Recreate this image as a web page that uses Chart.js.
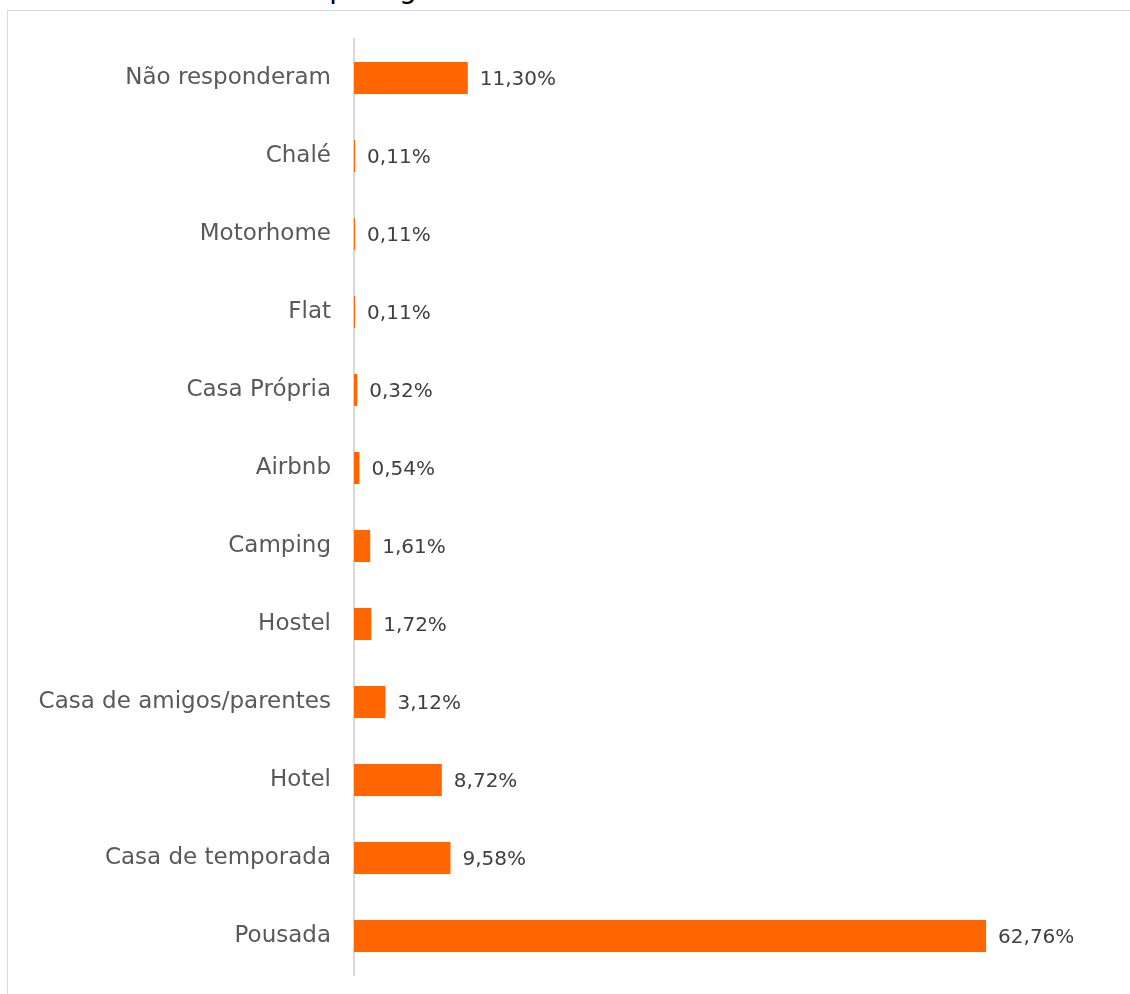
<!DOCTYPE html>
<html>
<head>
<meta charset="utf-8">
<script src="https://cdn.jsdelivr.net/npm/chart.js@4"></script>
<style>
  body { margin: 0; background: #fff; width: 1130px; height: 994px; overflow: hidden; position: relative; }
  #title { position: absolute; left: 15px; top: -28px; font: 28px "DejaVu Sans", sans-serif; color: #000; white-space: nowrap; }
  #frame { position: absolute; left: 7px; top: 10px; width: 1140px; height: 1010px; border: 1px solid #d9d9d9; box-sizing: border-box; background: #fff; }
  #chart { position: absolute; left: 0; top: 0; }
</style>
</head>
<body>
<div id="title">Gráfico 6: Meio de hospedagem</div>
<div id="frame"></div>
<canvas id="chart" width="1130" height="994"></canvas>
<script>
// categories, top to bottom
const categories = ['Não responderam', 'Chalé', 'Motorhome', 'Flat', 'Casa Própria', 'Airbnb',
    'Camping', 'Hostel', 'Casa de amigos/parentes', 'Hotel', 'Casa de temporada', 'Pousada'];
const percentValues = [11.30, 0.11, 0.11, 0.11, 0.32, 0.54, 1.61, 1.72, 3.12, 8.72, 9.58, 62.76];
const percentLabels = ['11,30%', '0,11%', '0,11%', '0,11%', '0,32%', '0,54%', '1,61%', '1,72%',
    '3,12%', '8,72%', '9,58%', '62,76%'];

// draw the value text right of each bar
const valueLabels = {
    id: 'valueLabels',
    afterDatasetsDraw: function(chart) {
        const ctx = chart.ctx;
        const meta = chart.getDatasetMeta(0);
        ctx.save();
        ctx.font = '20px "DejaVu Sans", sans-serif';
        ctx.fillStyle = '#404040';
        ctx.textBaseline = 'middle';
        ctx.textAlign = 'left';
        meta.data.forEach(function(bar, i) {
            ctx.fillText(percentLabels[i], bar.x + 12, bar.y + 2);
        });
        ctx.restore();
    }
};

const ctx = document.getElementById('chart').getContext('2d');
const chart = new Chart(ctx, {
    type: 'bar',
    data: {
        labels: categories,
        datasets: [{
            data: percentValues,
            backgroundColor: '#ff6600',
            borderWidth: 0,
            categoryPercentage: 1,
            barPercentage: 0.41
        }]
    },
    options: {
        indexAxis: 'y',
        responsive: false,
        animation: false,
        layout: { padding: { top: 39, bottom: 19, right: 71, left: 0 } },
        scales: {
            x: { display: false, min: 0, max: 70 },
            y: {
                afterFit: function(scale) {
                    scale.width = 354;
                    scale.paddingTop = 0;
                    scale.paddingBottom = 0;
                },
                grid: { display: false, drawTicks: false },
                border: { display: true, color: '#d9d9d9', width: 2 },
                ticks: {
                    padding: 23,
                    color: '#595959',
                    font: { family: '"DejaVu Sans", sans-serif', size: 23 }
                }
            }
        },
        plugins: {
            legend: { display: false },
            tooltip: { enabled: false }
        }
    },
    plugins: [valueLabels]
});
</script>
</body>
</html>
